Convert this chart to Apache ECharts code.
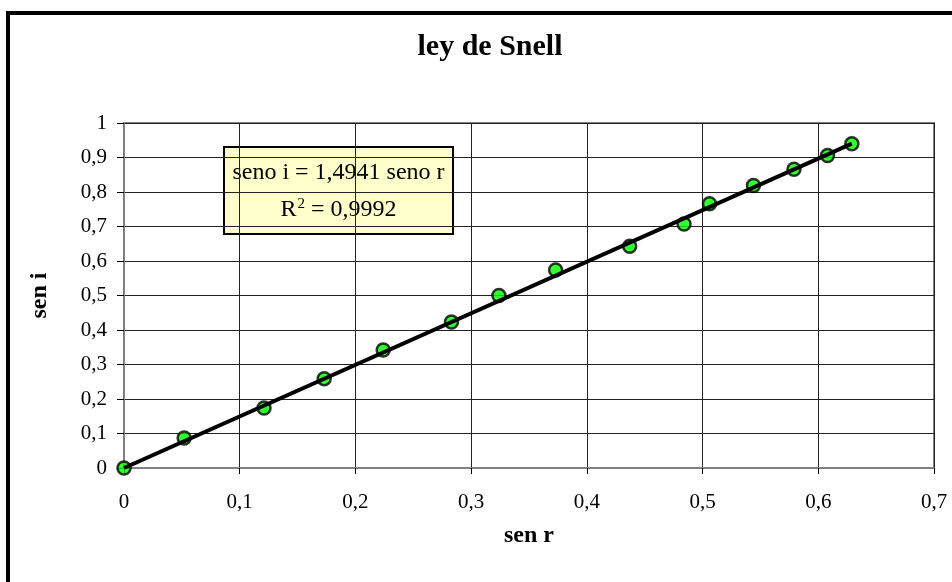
<!DOCTYPE html>
<html>
<head>
<meta charset="utf-8">
<script src="https://cdn.jsdelivr.net/npm/echarts@6/dist/echarts.min.js"></script>
<style>
html,body{margin:0;padding:0;background:#fff;}
#chart{width:952px;height:582px;}
</style>
</head>
<body>
<div id="chart"></div>
<script>
// sen r (x) and sen i (y)
var senR = [0, 0.052, 0.121, 0.173, 0.224, 0.283, 0.324, 0.373, 0.437, 0.484, 0.506, 0.544, 0.579, 0.608, 0.629];
var senI = [0, 0.087, 0.174, 0.259, 0.342, 0.423, 0.500, 0.574, 0.643, 0.707, 0.766, 0.819, 0.866, 0.906, 0.940];
// linear trend line endpoints (seno i = 1,4941 seno r)
var trendX = [0, 0.629];
var trendY = [0, 0.940];
var titleText = 'ley de Snell';
var xName = 'sen r';
var yName = 'sen i';
var eqLine1 = 'seno i = 1,4941 seno r';
var eqR2 = '0,9992';

var FONT = '"Liberation Serif", "Times New Roman", serif';
var points = senR.map(function (x, i) { return [x, senI[i]]; });
var trend = trendX.map(function (x, i) { return [x, trendY[i]]; });
function comma(v) { return String(Math.round(v * 10) / 10).replace('.', ','); }

var chart = echarts.init(document.getElementById('chart'), null, {renderer: 'canvas'});
chart.setOption({
  animation: false,
  backgroundColor: '#fff',
  title: {
    text: titleText, left: 485, top: 27, textAlign: 'center',
    textStyle: {fontFamily: FONT, fontSize: 30, fontWeight: 'bold', color: '#000'}
  },
  grid: {left: 124, right: 18, top: 123, bottom: 114, show: true, borderColor: '#808080', borderWidth: 2, backgroundColor: 'transparent'},
  xAxis: {
    type: 'value', min: 0, max: 0.7, interval: 0.1,
    name: xName, nameLocation: 'middle', nameGap: 56,
    nameTextStyle: {fontFamily: FONT, fontSize: 24, fontWeight: 'bold', color: '#000'},
    axisLine: {show: true, lineStyle: {color: '#808080', width: 2}},
    axisTick: {show: true, inside: false, length: 6, lineStyle: {color: '#000', width: 1}},
    axisLabel: {formatter: comma, fontFamily: FONT, fontSize: 21, color: '#000', margin: 24},
    splitLine: {show: true, lineStyle: {color: '#222', width: 1}}
  },
  yAxis: {
    type: 'value', min: 0, max: 1, interval: 0.1,
    name: yName, nameLocation: 'middle', nameGap: 72, nameRotate: 90,
    nameTextStyle: {fontFamily: FONT, fontSize: 24, fontWeight: 'bold', color: '#000'},
    axisLine: {show: true, lineStyle: {color: '#808080', width: 2}},
    axisTick: {show: true, inside: false, length: 7, lineStyle: {color: '#000', width: 1}},
    axisLabel: {formatter: comma, fontFamily: FONT, fontSize: 21, color: '#000', margin: 17},
    splitLine: {show: true, lineStyle: {color: '#222', width: 1}}
  },
  series: [
    {
      type: 'scatter', data: points, symbol: 'circle', symbolSize: 13, z: 2,
      itemStyle: {color: '#00ff00', borderColor: '#000', borderWidth: 2.5}
    },
    {
      type: 'line', data: trend, showSymbol: false, symbol: 'none', z: 3,
      lineStyle: {color: '#000', width: 4}
    }
  ],
  graphic: [
    {type: 'rect', left: 6, top: 11, z: 10, silent: true,
     shape: {x: 0, y: 0, width: 1000, height: 1000},
     style: {fill: 'transparent', stroke: '#000', lineWidth: 4}},
    {type: 'group', left: 223, top: 146, z: 20, children: [
      {type: 'rect', shape: {x: 0, y: 0, width: 229, height: 87},
       style: {fill: '#ffffcc', stroke: '#000', lineWidth: 2}},
      {type: 'text', x: 114.5, y: 26, style: {text: eqLine1, font: '24px ' + FONT, fill: '#000', align: 'center', verticalAlign: 'middle'}},
      {type: 'text', x: 114.5, y: 63, style: {
        text: '{b|R}{s|2}{b| = ' + eqR2 + '}', align: 'center', verticalAlign: 'middle',
        rich: {
          b: {font: '24px ' + FONT, fill: '#000', color: '#000'},
          s: {font: '15px ' + FONT, fill: '#000', color: '#000', verticalAlign: 'top', padding: [0, 0, 12, 1]}
        }
      }}
    ]}
  ]
});
</script>
</body>
</html>
